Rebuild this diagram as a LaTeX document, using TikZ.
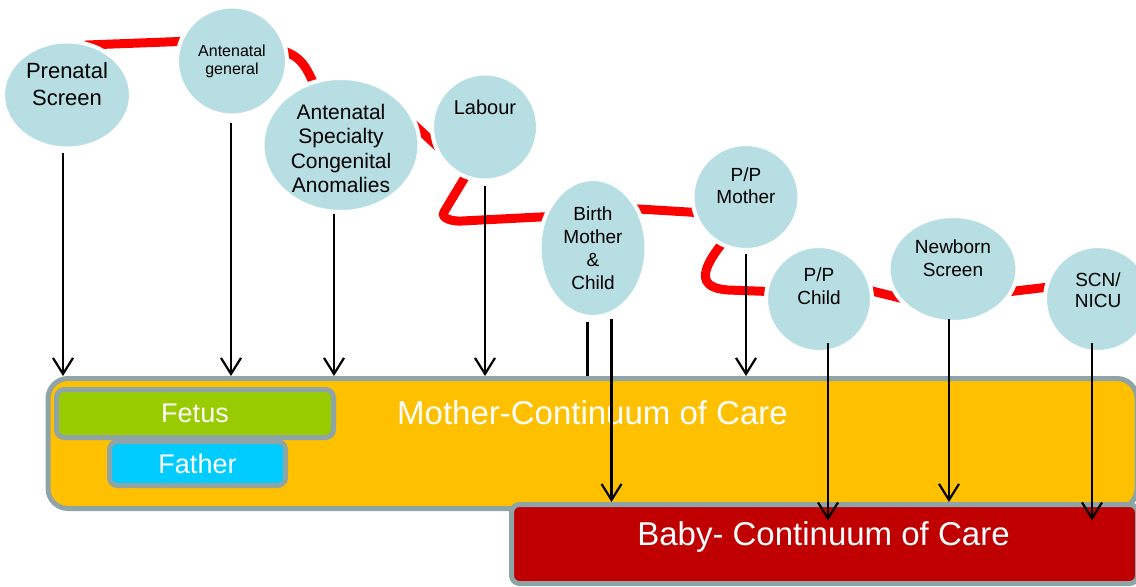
\documentclass[tikz,border=0pt]{standalone}
\usepackage{fontspec}
\setmainfont{Liberation Sans}
\usetikzlibrary{shapes.geometric,arrows.meta}

\definecolor{stageblue}{HTML}{B7DEE2}
\definecolor{careorange}{HTML}{FFC000}
\definecolor{fetusgreen}{HTML}{99CC00}
\definecolor{fathercyan}{HTML}{00CCFF}
\definecolor{babyred}{HTML}{C00000}
\definecolor{boxgray}{HTML}{8FA4A6}

\pgfdeclarelayer{background}
\pgfsetlayers{background,main}

\begin{document}
\begin{tikzpicture}[x=0.5pt,y=0.5pt]
		\tikzstyle{stage bubble} = [ellipse, fill=stageblue, draw=white, line width=2pt, inner sep=0pt]
		\tikzstyle{stage text} = [align=center, text=black]
		\tikzstyle{care box} = [rectangle, draw=boxgray, line width=2.5pt, inner sep=0pt, text=white]
		\tikzstyle{feed line} = [line width=1.1pt, -{Straight Barb[length=8pt,width=10pt]}]
		\tikzstyle{path line} = [red, line width=4.5pt, shorten <=-5pt, shorten >=-5pt]

		\useasboundingbox (0,0) rectangle (1136,586);

		% stages of care
		\node[stage bubble, minimum width=64pt, minimum height=53.5pt,
			label={[stage text, yshift=5.25pt, font=\fontsize{11}{13.5}\selectfont]center:Prenatal\\Screen}] (pre) at (67,491) {};
		\node[stage bubble, minimum width=55pt, minimum height=54.5pt,
			label={[stage text, font=\fontsize{8}{9}\selectfont]center:Antenatal\\general}] (ang) at (232,525) {};
		\node[stage bubble, minimum width=78.5pt, minimum height=67pt,
			label={[stage text, yshift=-1.75pt, font=\fontsize{10.5}{12.3}\selectfont]center:Antenatal\\Specialty\\Congenital\\Anomalies}] (spec) at (341,441) {};
		\node[stage bubble, minimum width=53pt, minimum height=53.5pt,
			label={[stage text, yshift=10pt, font=\fontsize{10}{12}\selectfont]center:Labour}] (lab) at (485,459) {};
		\node[stage bubble, minimum width=53.5pt, minimum height=69pt,
			label={[stage text, font=\fontsize{9.5}{11.5}\selectfont]center:Birth\\Mother\\\&\\Child}] (birth) at (593,338) {};
		\node[stage bubble, minimum width=53.5pt, minimum height=53pt,
			label={[stage text, yshift=5.5pt, font=\fontsize{9.5}{11}\selectfont]center:P/P\\Mother}] (ppm) at (746,389) {};
		\node[stage bubble, minimum width=53pt, minimum height=53pt,
			label={[stage text, yshift=6.25pt, font=\fontsize{9.5}{11.5}\selectfont]center:P/P\\Child}] (ppc) at (819,287) {};
		\node[stage bubble, minimum width=64.5pt, minimum height=53pt,
			label={[stage text, yshift=5.25pt, font=\fontsize{9.5}{11.5}\selectfont]center:Newborn\\Screen}] (nbs) at (953,317) {};
		\node[stage bubble, minimum width=53pt, minimum height=53pt,
			label={[stage text, yshift=4.5pt, font=\fontsize{9.5}{10.5}\selectfont]center:SCN/\\NICU}] (scn) at (1098,287) {};

		% red pathway behind the stages
		\begin{pgfonlayer}{background}
			\draw[path line] (pre.61) -- (ang.160);
			\draw[path line] (ang.9) to[out=-15,in=115] (spec.114);
			\draw[path line] (spec.11) -- (lab.195);
			\draw[path line] (lab.248) -- (444,374) to[out=-120,in=185] (462,365) -- (birth.148);
			\draw[path line] (birth.40) -- (ppm.196);
			\draw[path line] (ppm.242) to[out=-130,in=176,looseness=1.8] (728,296) -- (ppc.172);
			\draw[path line] (ppc.8) -- (nbs.206);
			\draw[path line] (nbs.340) -- (scn.168);
		\end{pgfonlayer}

		% continuum boxes
		\node[care box, fill=careorange, rounded corners=10pt, minimum width=544.5pt, minimum height=65pt,
			label={[text=white, yshift=15.25pt, font=\fontsize{16.5}{19}\selectfont]center:Mother-Continuum of Care}] (mother) at (592.5,142.5) {};
		\node[care box, fill=fetusgreen, rounded corners=4pt, minimum width=138.5pt, minimum height=24pt,
			font=\fontsize{13.5}{16}\selectfont] (fetus) at (195,172.5) {Fetus};
		\node[care box, fill=fathercyan, rounded corners=4pt, minimum width=88pt, minimum height=22pt,
			font=\fontsize{13.5}{16}\selectfont] (father) at (197.5,122.5) {Father};
		\node[care box, fill=babyred, rounded corners=4pt, minimum width=313pt, minimum height=39.5pt,
			label={[text=white, xshift=-0.5pt, yshift=3.5pt, font=\fontsize{16.5}{19}\selectfont]center:Baby- Continuum of Care}] (baby) at (824.5,42) {};

		% arrows down to the boxes
		\foreach \n/\dx/\dy in {pre/-2/-1, ang/-0.5/-2.5, spec/-3.5/0, lab/0/-1.5, ppm/0/-1}
		{
			\draw[feed line] ([xshift=\dx pt, yshift=\dy pt]\n.south) -- ([xshift=\dx pt]\n.south |- mother.north);
		}

		\draw[line width=1.1pt] ([xshift=-2.75pt, yshift=-1.5pt]birth.south) -- ([xshift=-2.75pt]birth.south |- mother.north);
		\draw[feed line] ([xshift=9.25pt]birth.south) -- ([xshift=9.25pt]birth.south |- baby.north);
		\draw[feed line] ([xshift=-2pt, yshift=2.5pt]nbs.south) -- ([xshift=-2pt]nbs.south |- baby.north);

		\foreach \n/\dx in {ppc/4.5, scn/-3}
		{
			\draw[feed line] ([xshift=\dx pt, yshift=5.5pt]\n.south) -- ([xshift=\dx pt, yshift=-9.25pt]\n.south |- baby.north);
		}

	\end{tikzpicture}
\end{document}
